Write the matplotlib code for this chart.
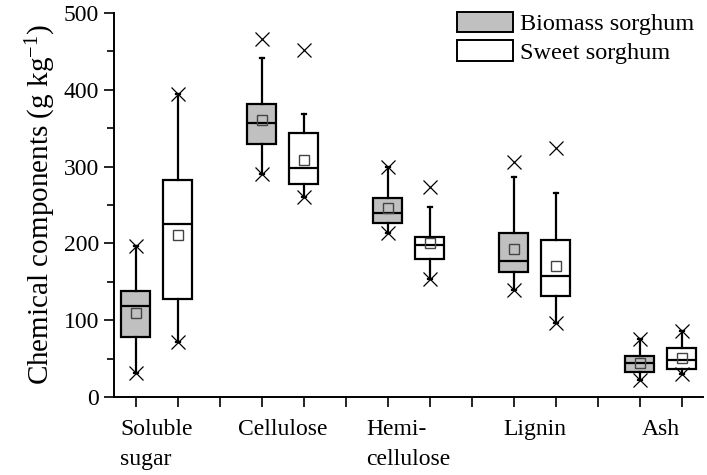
import matplotlib
matplotlib.use("Agg")
import matplotlib.pyplot as plt
from matplotlib.patches import Patch

plt.rcParams["font.family"] = ["Liberation Serif", "DejaVu Serif"]
plt.rcParams["mathtext.default"] = "regular"

categories = ["Soluble\nsugar", "Cellulose", "Hemi-\ncellulose", "Lignin", "Ash"]
groups = ["Biomass sorghum", "Sweet sorghum"]

# biomass sorghum
bio_q1 = [78, 329, 227, 163, 33]
bio_med = [118, 357, 240, 177, 44]
bio_q3 = [138, 381, 259, 214, 54]
bio_mean = [109, 361, 246, 193, 45]
bio_whislo = [32, 290, 213, 140, 22]
bio_whishi = [196, 441, 299, 287, 75]
bio_min = [32, 290, 213, 140, 22]
bio_max = [196, 466, 299, 306, 75]

# sweet sorghum
sweet_q1 = [128, 277, 180, 131, 36]
sweet_med = [225, 298, 198, 157, 48]
sweet_q3 = [282, 344, 208, 205, 64]
sweet_mean = [211, 309, 201, 171, 51]
sweet_whislo = [72, 261, 154, 96, 30]
sweet_whishi = [395, 368, 247, 266, 86]
sweet_min = [72, 261, 154, 96, 30]
sweet_max = [395, 451, 274, 324, 86]

bio_pos = [1, 4, 7, 10, 13]
sweet_pos = [2, 5, 8, 11, 14]
gray = "#c0c0c0"


def make_stats(q1, med, q3, lo, hi):
    return [dict(q1=a, med=b, q3=c, whislo=d, whishi=e, fliers=[])
            for a, b, c, d, e in zip(q1, med, q3, lo, hi)]


fig = plt.figure(figsize=(7.07, 4.75), dpi=100)
ax = fig.add_axes([0.161, 0.164, 0.833, 0.809])

for stats, pos, fc, mean, mn, mx in [
    (make_stats(bio_q1, bio_med, bio_q3, bio_whislo, bio_whishi), bio_pos, gray,
     bio_mean, bio_min, bio_max),
    (make_stats(sweet_q1, sweet_med, sweet_q3, sweet_whislo, sweet_whishi), sweet_pos, "white",
     sweet_mean, sweet_min, sweet_max),
]:
    ax.bxp(stats, positions=pos, widths=0.7, patch_artist=True, showfliers=False,
           capwidths=0.1,
           boxprops=dict(facecolor=fc, edgecolor="black", linewidth=1.6),
           medianprops=dict(color="black", linewidth=1.6),
           whiskerprops=dict(color="black", linewidth=1.6),
           capprops=dict(color="black", linewidth=1.6))
    ax.plot(pos, mean, "s", mfc="none", mec="#444444", ms=7.5, mew=1.0, zorder=5)
    ax.plot(pos, mx, "x", color="black", ms=10, mew=0.9, zorder=5)
    ax.plot(pos, mn, "x", color="black", ms=10, mew=0.9, zorder=5)

ax.set_xlim(0.48, 14.5)
ax.set_ylim(0, 500)
ax.set_yticks(range(0, 501, 100))
ax.set_yticks(range(50, 500, 100), minor=True)
ax.tick_params(axis="y", which="both", direction="out", length=7, width=1.2, labelsize=17)
ax.tick_params(axis="y", which="minor", length=5)

ax.set_xticks(range(1, 15))
ax.set_xticklabels([])
ax.set_xticks([1.5, 4.5, 7.5, 10.5, 13.5], minor=True)
ax.set_xticklabels(categories, minor=True)
ax.tick_params(axis="x", which="major", direction="out", length=7, width=1.2)
ax.tick_params(axis="x", which="minor", length=0, pad=16, labelsize=17)
for lbl in ax.get_xticklabels(minor=True):
    lbl.set_multialignment("left")
    lbl.set_linespacing(1.55)

for s in ["top", "right"]:
    ax.spines[s].set_visible(False)
for s in ["left", "bottom"]:
    ax.spines[s].set_linewidth(1.4)

ax.set_ylabel("Chemical components (g kg$^{-1}$)", fontsize=21, labelpad=4)

handles = [Patch(facecolor=gray, edgecolor="black", linewidth=1.4),
           Patch(facecolor="white", edgecolor="black", linewidth=1.4)]
ax.legend(handles, groups, loc="upper left", bbox_to_anchor=(457 / 707, 1 - 12 / 475),
          bbox_transform=fig.transFigure, borderaxespad=0, borderpad=0,
          frameon=False, fontsize=17.5, handlelength=2.3, handleheight=0.9,
          labelspacing=0.2, handletextpad=0.3)

fig.savefig("out.png", dpi=100)
